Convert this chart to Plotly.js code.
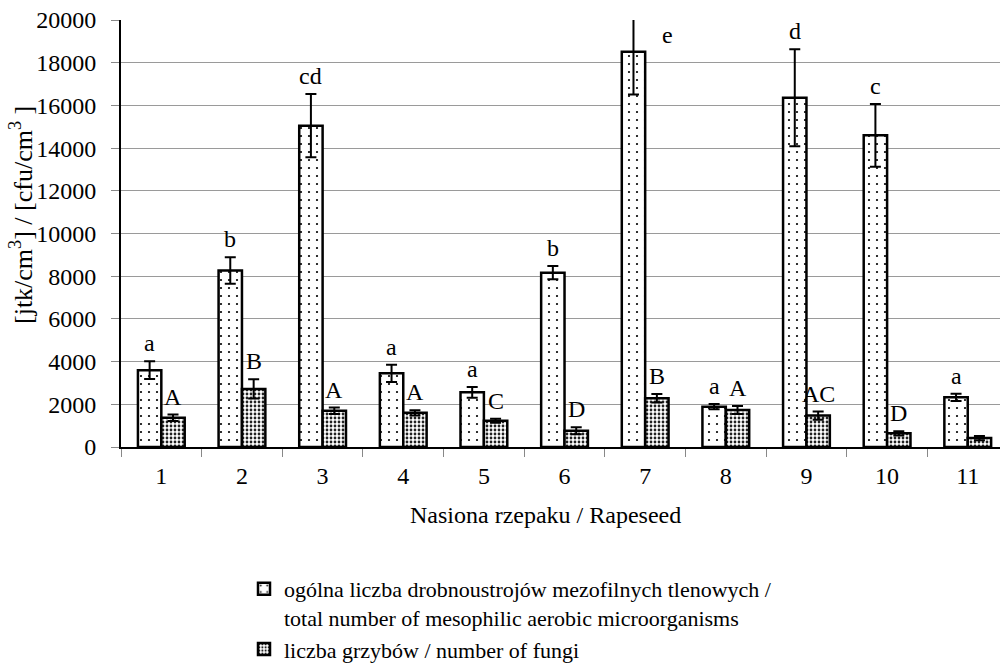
<!DOCTYPE html>
<html><head><meta charset="utf-8">
<script src="https://cdn.plot.ly/plotly-3.0.1.min.js"></script>
<style>body{margin:0;background:#fff}</style>
</head><body><div id="chart" style="width:1000px;height:671px"></div>
<script>
const categories = ['1','2','3','4','5','6','7','8','9','10','11'];
const mesophilic = [3600, 8270, 15050, 3450, 2560, 8165, 18515, 1890, 16360, 14600, 2330];
const mesophilicErr = [420, 620, 1480, 400, 250, 310, 2000, 125, 2270, 1470, 170];
const fungi = [1370, 2720, 1700, 1600, 1230, 760, 2280, 1730, 1470, 640, 420];
const fungiErr = [150, 450, 150, 120, 90, 160, 200, 190, 190, 100, 100];
const mesophilicLetters = ['a','b','cd','a','a','b','e','a','d','c','a'];
const fungiLetters = ['A','B','A','A','C','D','B','A','AC','D',''];
const yTicks = [0,2000,4000,6000,8000,10000,12000,14000,16000,18000,20000];

const FONT = "'Liberation Serif', 'Times New Roman', serif";
const YMAX = 20000;
const PL = 121, PT = 20, PW = 879, PH = 427;

const traces = [
  {
    type: 'bar', x: categories, y: mesophilic,
    name: 'ogólna liczba drobnoustrojów mezofilnych tlenowych /<br>total number of mesophilic aerobic microorganisms',
    error_y: {type: 'data', array: mesophilicErr, visible: true, color: '#000', thickness: 2, width: 5.5},
    marker: {color: '#fff', line: {color: '#000', width: 2.5},
      pattern: {shape: '.', fgcolor: '#000', bgcolor: '#fff', size: 8, solidity: 0.06}}
  },
  {
    type: 'bar', x: categories, y: fungi,
    name: 'liczba grzybów / number of fungi',
    error_y: {type: 'data', array: fungiErr, visible: true, color: '#000', thickness: 2, width: 5.5},
    marker: {color: '#fff', line: {color: '#000', width: 2.5},
      pattern: {shape: '.', fgcolor: '#222', bgcolor: '#fff', size: 4, solidity: 0.38}}
  }
];

const annotations = [];
function addLetters(values, errs, letters, dx) {
  values.forEach((v, i) => {
    if (!letters[i]) return;
    const top = v + errs[i];
    const clipped = top > YMAX;
    annotations.push({
      x: i, y: clipped ? YMAX : top, xref: 'x', yref: 'y',
      text: letters[i], showarrow: false,
      xshift: clipped ? dx + 34 : dx, yshift: clipped ? 0 : 3,
      yanchor: clipped ? 'top' : 'bottom',
      font: {family: FONT, size: 24, color: '#000'}
    });
  });
}
addLetters(mesophilic, mesophilicErr, mesophilicLetters, -11.7);
addLetters(fungi, fungiErr, fungiLetters, 11.7);

annotations.push({
  text: 'Nasiona rzepaku / Rapeseed', xref: 'paper', yref: 'paper',
  x: (545 - PL) / PW, y: -(515 - (PT + PH)) / PH, xanchor: 'center', yanchor: 'middle',
  showarrow: false, font: {family: FONT, size: 24, color: '#000'}
});
annotations.push({
  text: '[jtk/cm<sup>3</sup>] / [cfu/cm<sup>3</sup> ]', xref: 'paper', yref: 'paper',
  x: -(PL - 21) / PW, y: 1 - (215 - PT) / PH, xanchor: 'center', yanchor: 'middle',
  textangle: -90, showarrow: false, font: {family: FONT, size: 26, color: '#000'}
});

const layout = {
  width: 1000, height: 671,
  margin: {l: PL, r: 0, t: PT, b: 671 - PT - PH},
  paper_bgcolor: '#fff', plot_bgcolor: '#fff',
  font: {family: FONT, size: 24, color: '#000'},
  barmode: 'group', bargap: 0.42, bargroupgap: 0,
  showlegend: true,
  legend: {
    x: (244 - PL) / PW, y: -(670 - (PT + PH)) / PH,
    xanchor: 'left', yanchor: 'bottom', valign: 'top',
    font: {family: FONT, size: 22, color: '#000'},
    bgcolor: 'rgba(0,0,0,0)', tracegroupgap: 0
  },
  xaxis: {
    type: 'category', range: [-0.5, 10.4], tickson: 'boundaries',
    ticks: 'outside', ticklen: 8, tickcolor: '#888', tickwidth: 1,
    showline: true, linecolor: '#000', linewidth: 2, tickangle: 0,
    showgrid: false, zeroline: false, ticklabelstandoff: 6, automargin: false,
    tickfont: {family: FONT, size: 24, color: '#000'}
  },
  yaxis: {
    range: [0, YMAX], tickvals: yTicks, ticktext: yTicks.map(String),
    ticks: 'outside', ticklen: 8, tickcolor: '#888', tickwidth: 1,
    showline: true, linecolor: '#000', linewidth: 2,
    showgrid: true, gridcolor: '#9a9a9a', gridwidth: 1, zeroline: false,
    ticklabelstandoff: 10, automargin: false,
    tickfont: {family: FONT, size: 24, color: '#000'}
  },
  annotations: annotations
};

Plotly.newPlot('chart', traces, layout, {displayModeBar: false, staticPlot: true});
</script>
</body></html>
